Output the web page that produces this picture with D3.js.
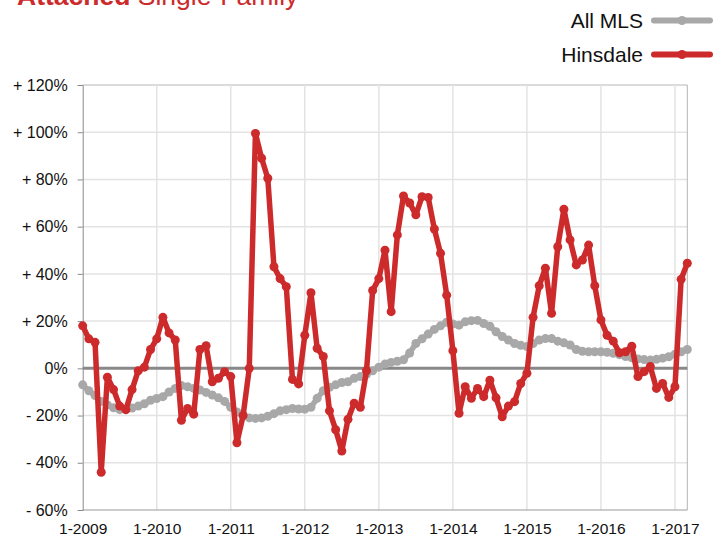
<!DOCTYPE html>
<html>
<head>
<meta charset="utf-8">
<script src="https://cdn.jsdelivr.net/npm/d3@7"></script>
<style>
  html, body { margin: 0; padding: 0; background: #fff; overflow: hidden; }
  svg { display: block; font-family: "Liberation Sans", Arial, Helvetica, sans-serif; }
</style>
</head>
<body>
<svg id="chart" width="718" height="535"></svg>
<script>
// ---- data ----
const yearTicks = ["1-2009","1-2010","1-2011","1-2012","1-2013","1-2014","1-2015","1-2016","1-2017"];
const yTicks = [-60, -40, -20, 0, 20, 40, 60, 80, 100, 120];
const seriesNames = ["All MLS", "Hinsdale"];

const allMLS = [
  -7, -9.5, -11.5, -14, -15.5, -16.7, -17.5, -17.5, -16.8, -16, -15, -13.5,
  -12.8, -12, -10, -8.5, -7.3, -7.8, -8.5, -9.2, -10.2, -11.3, -12.5, -14,
  -16.5, -18.5, -20, -21, -21.2, -21, -20.3, -19.2, -18, -17.5, -17, -17.2,
  -17.3, -16.5, -12.7, -9.5, -8, -7, -6, -5.7, -4.2, -3.5, -2.5, -1,
  0.5, 1.8, 2.5, 3, 3.6, 6.5, 10.5, 12.5, 14.5, 16.5, 18, 19.5,
  18.8, 18.3, 19.7, 20.2, 20.3, 19, 17.8, 15.5, 13.5, 12, 10.5, 9.8,
  9.2, 10.5, 12, 12.6, 12.6, 11.5, 10.8, 9.9, 8, 7.2, 7, 7,
  7, 6.8, 6.4, 5.8, 5, 4.5, 4, 3.7, 3.5, 3.8, 4.3, 4.9,
  6, 7, 8
];

const hinsdale = [
  18, 12.5, 11, -44, -3.8, -9, -16, -17.5, -9, -1, 0.5, 8,
  12.5, 21.6, 15, 12, -22, -17, -19.4, 8, 9.6, -5.7, -4.2, -1.4,
  -3.5, -31.5, -20, 0, 99.5, 89, 80.5, 43, 38, 34.6, -4.7, -6.6,
  14, 32, 8.5, 5, -18, -26, -35, -21.6, -14.8, -16.5, -1, 33,
  38, 50, 24, 56.5, 73, 70, 65, 72.7, 72.4, 59, 48.7, 31,
  7.5, -19, -7.8, -12.7, -8.5, -12, -5, -12.5, -20.5, -16, -14.1, -6.4,
  -2.1, 21.6, 35, 42.4, 23.3, 51.5, 67.4, 54.4, 43.8, 45.9, 52.2, 35,
  20.5, 14, 11.5, 6.6, 7, 9.4, -3.5, -1.4, 0.8, -8.5, -6.4, -12.3,
  -7.8, 37.7, 44.5
];

// ---- layout ----
const RED = "#cc2a2b";
const GRAY = "#a8a8a8";
const svg = d3.select("#chart");
const plot = { left: 82.7, right: 687.3, top: 85, bottom: 510 };

const x = d3.scaleLinear().domain([0, hinsdale.length - 1]).range([plot.left, plot.right]);
const y = d3.scaleLinear().domain([-60, 120]).range([plot.bottom, plot.top]);

// title (partly cut off at top, as in the reference)
const title = svg.append("text").attr("x", 17).attr("y", 5)
  .attr("font-size", 26.5).attr("fill", RED);
title.append("tspan").attr("font-weight", "bold").text("Attached");
title.append("tspan").text(" Single-Family");

// horizontal grid
svg.append("g").selectAll("line").data(yTicks.filter(d => d !== 0 && d !== -60))
  .join("line")
  .attr("x1", plot.left).attr("x2", plot.right)
  .attr("y1", d => y(d)).attr("y2", d => y(d))
  .attr("stroke", d => d === 120 ? "#cfcfcf" : "#e3e3e3").attr("stroke-width", 1.5);

// vertical grid at each January
const yearIdx = yearTicks.map((t, i) => i * 12);
svg.append("g").selectAll("line").data(yearIdx.slice(1))
  .join("line")
  .attr("x1", d => x(d)).attr("x2", d => x(d))
  .attr("y1", plot.top).attr("y2", plot.bottom)
  .attr("stroke", "#e3e3e3").attr("stroke-width", 1.5);

// frame
svg.append("line").attr("x1", plot.right).attr("x2", plot.right)
  .attr("y1", plot.top).attr("y2", plot.bottom).attr("stroke", "#b5b5b5").attr("stroke-width", 1);
svg.append("line").attr("x1", plot.left).attr("x2", plot.right)
  .attr("y1", plot.bottom).attr("y2", plot.bottom).attr("stroke", "#9a9a9a").attr("stroke-width", 1);

// y axis
const yAxis = d3.axisLeft(y).tickValues(yTicks).tickSize(5).tickPadding(10)
  .tickFormat(d => d > 0 ? "+ " + d + "%" : d < 0 ? "- " + Math.abs(d) + "%" : "0%");
const ya = svg.append("g").attr("transform", `translate(${plot.left},0)`).call(yAxis);
ya.select(".domain").attr("stroke", "#8a8a8a");
ya.selectAll(".tick line").attr("stroke", "#8a8a8a");
ya.selectAll("text").attr("font-size", 16).attr("fill", "#111")
  .attr("font-family", "Liberation Sans, Arial, sans-serif");

// x axis labels
const xAxis = d3.axisBottom(x).tickValues(yearIdx).tickSize(0).tickPadding(13)
  .tickFormat((d, i) => yearTicks[i]);
const xa = svg.append("g").attr("transform", `translate(0,${plot.bottom})`).call(xAxis);
xa.select(".domain").remove();
xa.selectAll("text").attr("font-size", 15.5).attr("fill", "#111")
  .attr("font-family", "Liberation Sans, Arial, sans-serif");

const line = d3.line().x((d, i) => x(i)).y(d => y(d));

// zero line
svg.append("line").attr("x1", plot.left).attr("x2", plot.right)
  .attr("y1", y(0)).attr("y2", y(0)).attr("stroke", "#888").attr("stroke-width", 3);

function drawSeries(data, color) {
  const g = svg.append("g");
  g.append("path").datum(data).attr("d", line)
    .attr("fill", "none").attr("stroke", color).attr("stroke-width", 5.5)
    .attr("stroke-linejoin", "round").attr("stroke-linecap", "round");
  g.selectAll("circle").data(data).join("circle")
    .attr("cx", (d, i) => x(i)).attr("cy", d => y(d)).attr("r", 4.5).attr("fill", color);
}
drawSeries(allMLS, GRAY);
drawSeries(hinsdale, RED);

// legend
const legend = [
  { name: seriesNames[0], color: GRAY, y: 20.5 },
  { name: seriesNames[1], color: RED, y: 54.5 }
];
const lg = svg.append("g");
legend.forEach(l => {
  lg.append("text").attr("x", 643).attr("y", l.y + 7).attr("text-anchor", "end")
    .attr("font-size", 21).attr("fill", "#111").text(l.name);
  lg.append("line").attr("x1", 654).attr("x2", 710).attr("y1", l.y).attr("y2", l.y)
    .attr("stroke", l.color).attr("stroke-width", 6).attr("stroke-linecap", "round");
  lg.append("circle").attr("cx", 682).attr("cy", l.y).attr("r", 4.5).attr("fill", l.color);
});
</script>
</body>
</html>
